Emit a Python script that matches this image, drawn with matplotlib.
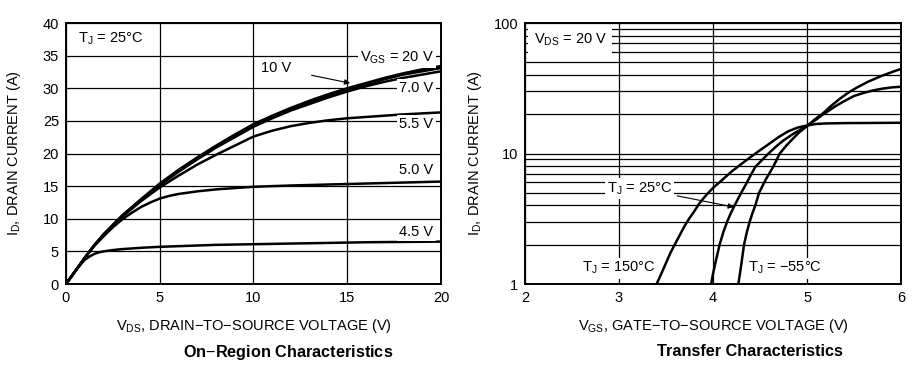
import matplotlib
matplotlib.use("Agg")

import matplotlib.pyplot as plt
import numpy as np

plt.rcParams["font.family"] = ["Liberation Sans", "DejaVu Sans"]
plt.rcParams["mathtext.fontset"] = "custom"
plt.rcParams["mathtext.rm"] = "Liberation Sans"
plt.rcParams["mathtext.it"] = "Liberation Sans"

# on-region characteristics, ID vs VDS for several VGS
vds = [0, 0.5, 1, 1.5, 2, 3, 4, 5, 6, 7, 8, 9, 10, 11, 12, 13, 14, 15, 16, 17, 18, 19, 20]
id_20v = [0, 2.0, 4.0, 5.9, 7.6, 10.5, 13.0, 15.4, 17.5, 19.4, 21.2, 22.9, 24.5,
          25.8, 27.0, 28.1, 29.1, 30.0, 30.8, 31.6, 32.3, 32.9, 33.4]
id_10v = [0, 2.0, 4.0, 5.9, 7.6, 10.5, 12.9, 15.3, 17.4, 19.3, 21.1, 22.8, 24.4,
          25.7, 26.9, 27.9, 28.9, 29.8, 30.6, 31.4, 32.1, 32.6, 33.1]
id_7v = [0, 2.0, 4.0, 5.9, 7.5, 10.4, 12.8, 15.1, 17.2, 19.1, 20.9, 22.5, 24.1,
         25.4, 26.6, 27.6, 28.6, 29.5, 30.3, 31.0, 31.6, 32.1, 32.6]
id_55v = [0, 2.0, 4.0, 5.9, 7.5, 10.3, 12.7, 14.8, 16.6, 18.3, 19.8, 21.2, 22.6,
          23.5, 24.2, 24.7, 25.1, 25.4, 25.6, 25.8, 26.0, 26.15, 26.3]
vds_5 = [0, 0.5, 1, 1.5, 2, 2.5, 3, 3.5, 4, 4.5, 5, 5.5, 6, 7, 8, 9, 10, 12, 14, 16, 18, 20]
id_5v = [0, 2.0, 4.0, 5.8, 7.3, 8.7, 9.9, 10.9, 11.8, 12.5, 13.1, 13.5, 13.8,
         14.2, 14.5, 14.7, 14.9, 15.1, 15.25, 15.4, 15.55, 15.7]
vds_45 = [0, 0.25, 0.5, 0.75, 1, 1.25, 1.5, 1.75, 2, 2.5, 3, 4, 5, 6, 8, 10, 12, 14, 16, 18, 20]
id_45v = [0, 1.0, 2.0, 2.9, 3.7, 4.2, 4.6, 4.85, 5.0, 5.2, 5.35, 5.55, 5.7, 5.8,
          6.0, 6.1, 6.2, 6.3, 6.4, 6.45, 6.5]

# transfer characteristics, ID vs VGS at three junction temperatures
vgs_150 = [3.40, 3.45, 3.50, 3.55, 3.60, 3.65, 3.70, 3.75, 3.80, 3.85, 3.90, 3.95, 4.0,
           4.1, 4.2, 4.3, 4.4, 4.5, 4.6, 4.7, 4.8, 4.9, 5.0, 5.1, 5.2, 5.4, 5.7, 6.0]
id_150 = [1.0, 1.2, 1.45, 1.75, 2.05, 2.4, 2.8, 3.2, 3.6, 4.1, 4.55, 5.0, 5.45,
          6.3, 7.3, 8.3, 9.4, 10.6, 11.9, 13.4, 14.8, 15.8, 16.4, 16.85, 17.0, 17.1, 17.15, 17.2]
vgs_25 = [3.98, 4.0, 4.03, 4.07, 4.11, 4.15, 4.19, 4.23, 4.27, 4.30, 4.35, 4.40, 4.45,
          4.52, 4.59, 4.67, 4.75, 4.85, 4.95, 5.05, 5.17, 5.3, 5.4, 5.5, 5.6, 5.7, 5.8, 5.9, 6.0]
id_25 = [1.0, 1.2, 1.5, 2.0, 2.5, 3.0, 3.5, 4.0, 4.55, 5.0, 5.8, 6.8, 7.9,
         8.9, 10.0, 11.3, 12.6, 14.1, 15.5, 17.2, 19.9, 23.0, 25.3, 27.6, 29.1, 30.4, 31.4, 32.1, 32.5]
vgs_m55 = [4.27, 4.30, 4.33, 4.36, 4.39, 4.42, 4.45, 4.49, 4.56, 4.64, 4.71, 4.78, 4.85,
           4.92, 5.0, 5.08, 5.17, 5.26, 5.35, 5.44, 5.53, 5.65, 5.78, 5.9, 6.0]
id_m55 = [1.0, 1.4, 2.0, 2.5, 3.0, 3.5, 4.0, 5.0, 6.3, 7.9, 10.0, 11.5, 13.0,
          14.6, 16.2, 18.2, 20.3, 23.3, 26.3, 29.3, 32.0, 35.5, 39.0, 42.0, 44.5]

FS = 10.5
LW = 1.8
box = dict(facecolor="white", edgecolor="none", pad=1.5)


def style_axes(ax):
    for s in ax.spines.values():
        s.set_linewidth(1.4)
    ax.tick_params(which="both", length=0, labelsize=FS, pad=5)
    ax.set_axisbelow(True)


fig = plt.figure(figsize=(9.14, 3.70), dpi=100)

# ---- left: on-region characteristics
ax1 = fig.add_axes([0.0722, 0.2324, 0.4103, 0.7054])
ax1.set_xlim(0, 20)
ax1.set_ylim(0, 40)
ax1.set_xticks([0, 5, 10, 15, 20])
ax1.set_yticks(np.arange(0, 41, 5))
ax1.grid(True, color="black", lw=0.9)
style_axes(ax1)
for y in [id_20v, id_10v, id_7v, id_55v]:
    ax1.plot(vds, y, color="black", lw=LW, zorder=3)
ax1.plot(vds_5, id_5v, color="black", lw=LW, zorder=3)
ax1.plot(vds_45, id_45v, color="black", lw=LW, zorder=3)

ax1.text(2.4, 37.6, r"T$_\mathregular{J}$ = 25°C", fontsize=FS, ha="center", va="center", bbox=box)
ax1.text(19.6, 34.6, r"V$_\mathregular{GS}$ = 20 V", fontsize=FS, ha="right", va="center", bbox=box)
ax1.text(19.6, 30.1, "7.0 V", fontsize=FS, ha="right", va="center", bbox=box)
ax1.text(19.6, 24.5, "5.5 V", fontsize=FS, ha="right", va="center", bbox=box)
ax1.text(19.6, 17.4, "5.0 V", fontsize=FS, ha="right", va="center", bbox=box)
ax1.text(19.6, 8.0, "4.5 V", fontsize=FS, ha="right", va="center", bbox=box)
ax1.annotate("10 V", xy=(15.3, 30.7), xytext=(11.2, 33.1), fontsize=FS,
             ha="center", va="center",
             arrowprops=dict(arrowstyle="-|>", color="black", lw=0.8,
                             mutation_scale=8, shrinkA=13))
ax1.set_xlabel(r"V$_\mathregular{DS}$, DRAIN$-$TO$-$SOURCE VOLTAGE (V)", fontsize=FS)
ax1.set_ylabel(r"I$_\mathregular{D}$, DRAIN CURRENT (A)", fontsize=FS)
ax1.xaxis.set_label_coords(0.5, -0.125)
ax1.yaxis.set_label_coords(-0.115, 0.5)

# ---- right: transfer characteristics
ax2 = fig.add_axes([0.5744, 0.2324, 0.4114, 0.7054])
ax2.set_yscale("log")
ax2.set_xlim(2, 6)
ax2.set_ylim(1, 100)
ax2.set_xticks([2, 3, 4, 5, 6])
ax2.set_yticks([1, 10, 100])
ax2.set_yticklabels(["1", "10", "100"])
ax2.yaxis.set_minor_formatter(matplotlib.ticker.NullFormatter())
ax2.grid(True, which="both", color="black", lw=0.9)
style_axes(ax2)
ax2.plot(vgs_150, id_150, color="black", lw=LW, zorder=3)
ax2.plot(vgs_25, id_25, color="black", lw=LW, zorder=3)
ax2.plot(vgs_m55, id_m55, color="black", lw=LW, zorder=3)

ax2.text(2.48, 74, r"V$_\mathregular{DS}$ = 20 V", fontsize=FS, ha="center", va="center",
         bbox=dict(facecolor="white", edgecolor="none", pad=4))
ax2.text(3.0, 1.32, r"T$_\mathregular{J}$ = 150°C", fontsize=FS, ha="center", va="center", bbox=box)
ax2.text(4.76, 1.32, r"T$_\mathregular{J}$ = $-$55°C", fontsize=FS, ha="center", va="center", bbox=box)
ax2.annotate(r"T$_\mathregular{J}$ = 25°C", xy=(4.25, 3.85), xytext=(3.22, 5.4), fontsize=FS,
             ha="center", va="center", bbox=box,
             arrowprops=dict(arrowstyle="-|>", color="black", lw=0.8,
                             mutation_scale=8, shrinkA=2))
ax2.set_xlabel(r"V$_\mathregular{GS}$, GATE$-$TO$-$SOURCE VOLTAGE (V)", fontsize=FS)
ax2.set_ylabel(r"I$_\mathregular{D}$, DRAIN CURRENT (A)", fontsize=FS)
ax2.xaxis.set_label_coords(0.5, -0.125)
ax2.yaxis.set_label_coords(-0.109, 0.5)

fig.text(288 / 914, 1 - 352 / 370, "On$-$Region Characteristics", fontsize=11.7,
         fontweight="bold", ha="center", va="center")
fig.text(750 / 914, 1 - 352 / 370, "Transfer Characteristics", fontsize=11.7,
         fontweight="bold", ha="center", va="center")

fig.savefig("out.png", dpi=100)
